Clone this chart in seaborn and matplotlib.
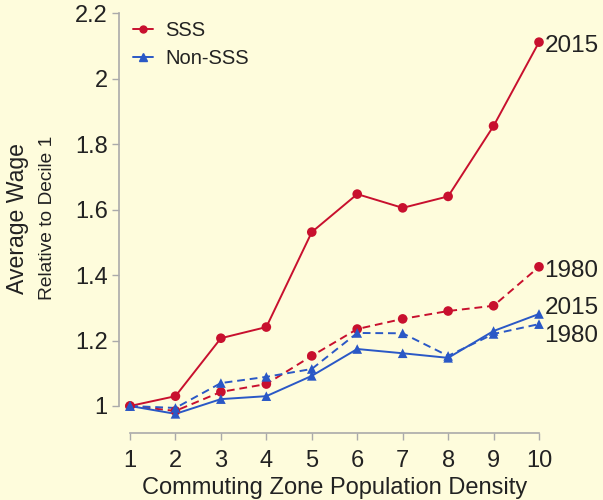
import matplotlib
matplotlib.use("Agg")
import matplotlib.pyplot as plt
import seaborn as sns
import pandas as pd
from matplotlib.lines import Line2D

deciles = [1, 2, 3, 4, 5, 6, 7, 8, 9, 10]
sss_2015 = [1.0, 1.03, 1.207, 1.241, 1.531, 1.647, 1.605, 1.640, 1.855, 2.111]
sss_1980 = [1.0, 0.985, 1.043, 1.067, 1.153, 1.235, 1.266, 1.290, 1.306, 1.425]
non_2015 = [1.0, 0.976, 1.021, 1.030, 1.092, 1.174, 1.161, 1.147, 1.229, 1.281]
non_1980 = [1.0, 0.994, 1.070, 1.089, 1.113, 1.223, 1.222, 1.153, 1.220, 1.250]
y_ticks = [1, 1.2, 1.4, 1.6, 1.8, 2, 2.2]
y_ticklabels = ["1", "1.2", "1.4", "1.6", "1.8", "2", "2.2"]

RED = "#C8102E"
BLUE = "#2A58C6"
BG = "#FEFCDC"
TXT = "#222222"

rows = []
for grp, yr, vals in [("SSS", "2015", sss_2015), ("SSS", "1980", sss_1980),
                      ("Non-SSS", "2015", non_2015), ("Non-SSS", "1980", non_1980)]:
    for d, v in zip(deciles, vals):
        rows.append({"decile": d, "wage": v, "group": grp, "year": yr})
df = pd.DataFrame(rows)

sns.set_theme(style="ticks")
plt.rcParams["font.family"] = ["Liberation Sans", "DejaVu Sans"]

fig = plt.figure(figsize=(6.03, 5.0), dpi=100, facecolor=BG)
ax = fig.add_axes([130/603, (500-406)/500, (539-130)/603, (406-13)/500])
ax.set_facecolor(BG)

sns.lineplot(data=df, x="decile", y="wage", hue="group", style="year",
             hue_order=["SSS", "Non-SSS"], style_order=["2015", "1980"],
             palette={"SSS": RED, "Non-SSS": BLUE},
             markers=False, dashes={"2015": "", "1980": (4, 2.5)},
             linewidth=1.4, ax=ax, legend=False, clip_on=False)
for grp, col, mk in [("SSS", RED, "o"), ("Non-SSS", BLUE, "^")]:
    sub = df[df.group == grp]
    sns.scatterplot(data=sub, x="decile", y="wage", color=col, marker=mk,
                    s=48, edgecolor="none", ax=ax, legend=False, clip_on=False, zorder=3)

ax.set_xlim(1, 10)
ax.set_ylim(1, 2.2)
ax.set_xticks(deciles)
ax.set_yticks(y_ticks)
ax.set_yticklabels(y_ticklabels)
ax.tick_params(labelsize=17, colors=TXT, length=5, width=1, color="#AAAAAA")
ax.tick_params(axis="y", pad=3)
ax.tick_params(axis="x", pad=7)
for s in ["top", "right"]:
    ax.spines[s].set_visible(False)
ax.spines["left"].set_position(("outward", 8))
ax.spines["bottom"].set_position(("outward", 19.5))
for s in ["left", "bottom"]:
    ax.spines[s].set_color("#AAAAAA")
    ax.spines[s].set_linewidth(1.2)

ax.set_xlabel("Commuting Zone Population Density", fontsize=17, color=TXT, labelpad=4)
ax.set_ylabel("")
fig.text(0.029, 0.564, "Average Wage", rotation=90, fontsize=16.6, color=TXT,
         ha="center", va="center")
fig.text(0.079, 0.564, "Relative to Decile 1", rotation=90, fontsize=13.8, color=TXT,
         ha="center", va="center")

# end labels (offsets in points)
for val, txt, dy in [(sss_2015[-1], "2015", -3), (sss_1980[-1], "1980", -3),
                     (non_2015[-1], "2015", 4), (non_1980[-1], "1980", -8.5)]:
    ax.annotate(txt, xy=(deciles[-1], val), xytext=(4, dy), textcoords="offset points",
                fontsize=17.5, color=TXT, va="center", ha="left", annotation_clip=False)

handles = [Line2D([], [], color=RED, marker="o", markersize=5, lw=1.4),
           Line2D([], [], color=BLUE, marker="^", markersize=5.5, lw=1.4)]
leg = ax.legend(handles, ["SSS", "Non-SSS"], loc="upper left", bbox_to_anchor=(-0.037, 1.025),
                frameon=False, fontsize=14.5, handlelength=1.0, handletextpad=0.6,
                labelspacing=0.45, labelcolor=TXT)

fig.savefig("out.png", dpi=100, facecolor=BG)
